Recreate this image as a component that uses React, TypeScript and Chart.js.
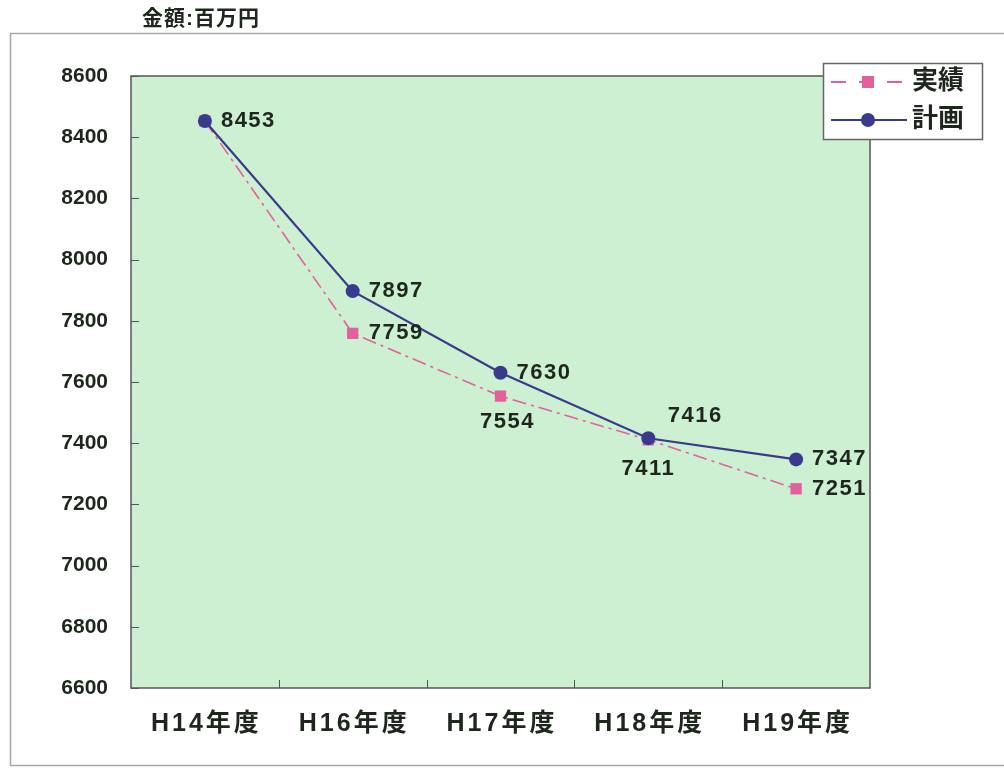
import React, { useEffect, useRef } from "react";
import { Chart, registerables } from "chart.js";

Chart.register(...registerables);

const categories = ["H14年度", "H16年度", "H17年度", "H18年度", "H19年度"];
const planValues = [8453, 7897, 7630, 7416, 7347];
const actualValues = [8453, 7759, 7554, 7411, 7251];
const planLabel = "計画";
const actualLabel = "実績";
const unitLabel = "金額:百万円";
const yMin = 6600;
const yMax = 8600;
const yStep = 200;
// label placement for the value texts (null = no label)
const planLabelPos = ["right", "right", "right", "aboveRight", "right"];
const actualLabelPos = [null, "right", "below", "belowLeft", "right"];

const GREEN = "#cdf0d2";
const NAVY = "#3a3a8c";
const PINK = "#e2609c";
const TEXT = "#1e261e";
const FONT = "'Liberation Sans', 'Noto Sans CJK JP', sans-serif";

export default function App() {
  const ref = useRef<HTMLCanvasElement>(null);
  useEffect(() => {
    const canvas = ref.current!;
    const decor = {
      id: "decor",
      beforeDraw(chart: any) {
        const { ctx, chartArea: a } = chart;
        ctx.save();
        ctx.fillStyle = "#ffffff";
        ctx.fillRect(0, 0, chart.width, chart.height);
        ctx.strokeStyle = "#a8a8a8";
        ctx.lineWidth = 1.5;
        ctx.strokeRect(10.5, 33.5, 1010, 732);
        ctx.fillStyle = GREEN;
        ctx.fillRect(a.left, a.top, a.right - a.left, a.bottom - a.top);
        ctx.fillStyle = TEXT;
        ctx.font = `bold 21px ${FONT}`;
        (ctx as any).letterSpacing = "1px";
        ctx.textBaseline = "middle";
        ctx.textAlign = "left";
        ctx.fillText(unitLabel, 142, 19);
        ctx.restore();
      },
      beforeDatasetsDraw(chart: any) {
        const { ctx, chartArea: a, scales } = chart;
        ctx.save();
        ctx.strokeStyle = "#555";
        ctx.lineWidth = 1.5;
        ctx.strokeRect(a.left, a.top, a.right - a.left, a.bottom - a.top);
        ctx.lineWidth = 1;
        const y = scales.y;
        y.ticks.forEach((t: any) => {
          const py = Math.round(y.getPixelForValue(t.value)) + 0.5;
          ctx.beginPath();
          ctx.moveTo(a.left, py);
          ctx.lineTo(a.left + 8, py);
          ctx.stroke();
        });
        const x = scales.x;
        for (let i = 1; i < categories.length; i++) {
          const px = Math.round((x.getPixelForValue(i - 1) + x.getPixelForValue(i)) / 2) + 0.5;
          ctx.beginPath();
          ctx.moveTo(px, a.bottom);
          ctx.lineTo(px, a.bottom - 8);
          ctx.stroke();
        }
        // category labels (with letter spacing)
        ctx.fillStyle = TEXT;
        ctx.font = `bold 25px ${FONT}`;
        (ctx as any).letterSpacing = "3px";
        ctx.textAlign = "center";
        ctx.textBaseline = "middle";
        categories.forEach((c, i) => {
          ctx.fillText(c, x.getPixelForValue(i) + 1.5, a.bottom + 36);
        });
        ctx.restore();
      },
      afterDatasetsDraw(chart: any) {
        const { ctx } = chart;
        ctx.save();
        ctx.fillStyle = TEXT;
        ctx.font = `bold 22px ${FONT}`;
        ctx.textBaseline = "middle";
        (ctx as any).letterSpacing = "1.5px";
        const drawLabels = (dsIndex: number, vals: number[], pos: (string | null)[]) => {
          const meta = chart.getDatasetMeta(dsIndex);
          meta.data.forEach((pt: any, i: number) => {
            const p = pos[i];
            if (!p) return;
            const s = String(vals[i]);
            if (p === "right") {
              ctx.textAlign = "left";
              ctx.fillText(s, pt.x + 16, pt.y);
            } else if (p === "below") {
              ctx.textAlign = "center";
              ctx.fillText(s, pt.x + 7, pt.y + 26);
            } else if (p === "belowLeft") {
              ctx.textAlign = "center";
              ctx.fillText(s, pt.x, pt.y + 29);
            } else if (p === "aboveRight") {
              ctx.textAlign = "center";
              ctx.fillText(s, pt.x + 47, pt.y - 22);
            }
          });
        };
        drawLabels(0, planValues, planLabelPos);
        drawLabels(1, actualValues, actualLabelPos);

        // legend
        const lx = 823, ly = 63, lw = 159, lh = 76;
        (ctx as any).letterSpacing = "0px";
        ctx.fillStyle = "#ffffff";
        ctx.fillRect(lx, ly, lw, lh);
        ctx.strokeStyle = "#666";
        ctx.lineWidth = 1.5;
        ctx.strokeRect(lx + 0.5, ly + 0.5, lw, lh);
        const rows = [
          { label: actualLabel, color: PINK, dash: [15, 13], y: ly + 19, square: true },
          { label: planLabel, color: NAVY, dash: [], y: ly + 57, square: false },
        ];
        rows.forEach((r) => {
          ctx.save();
          ctx.strokeStyle = r.color;
          ctx.lineWidth = r.square ? 1.8 : 2.2;
          ctx.setLineDash(r.dash);
          ctx.beginPath();
          ctx.moveTo(lx + 8, r.y);
          ctx.lineTo(lx + 84, r.y);
          ctx.stroke();
          ctx.restore();
          ctx.fillStyle = r.color;
          if (r.square) {
            ctx.fillRect(lx + 39, r.y - 6, 12, 12);
          } else {
            ctx.beginPath();
            ctx.arc(lx + 45, r.y, 7, 0, Math.PI * 2);
            ctx.fill();
          }
          ctx.fillStyle = TEXT;
          ctx.font = `bold 26px ${FONT}`;
          ctx.textAlign = "left";
          ctx.textBaseline = "middle";
          ctx.fillText(r.label, lx + 89, r.y);
        });
        ctx.restore();
      },
    };

    const chart = new Chart(canvas, {
      type: "line",
      data: {
        labels: categories,
        datasets: [
          {
            label: planLabel,
            data: planValues,
            borderColor: NAVY,
            backgroundColor: NAVY,
            borderWidth: 2.2,
            pointStyle: "circle",
            pointRadius: 7,
            pointBorderWidth: 0,
            tension: 0,
            order: 0,
          },
          {
            label: actualLabel,
            data: actualValues,
            borderColor: PINK,
            backgroundColor: PINK,
            borderWidth: 1.6,
            borderDash: [14, 5, 3, 5],
            pointStyle: "rect",
            pointRadius: 8,
            pointBorderWidth: 0,
            tension: 0,
            order: 1,
          },
        ],
      },
      options: {
        animation: false,
        responsive: false,
        maintainAspectRatio: false,
        layout: { padding: { top: 76, right: 134, bottom: 0, left: 0 } },
        plugins: { legend: { display: false }, tooltip: { enabled: false }, title: { display: false } },
        scales: {
          x: {
            type: "category",
            offset: true,
            grid: { display: false, drawTicks: false },
            border: { display: false },
            ticks: { display: false },
            afterFit: (s: any) => {
              s.height = 83;
            },
          },
          y: {
            min: yMin,
            max: yMax,
            grid: { display: false, drawTicks: false },
            border: { display: false },
            ticks: {
              stepSize: yStep,
              color: TEXT,
              padding: 23,
              font: { family: FONT, size: 21, weight: "bold" },
              callback: (v: any) => String(v),
            },
            afterFit: (s: any) => {
              s.width = 131;
            },
          },
        },
      },
      plugins: [decor],
    });
    return () => chart.destroy();
  }, []);
  return (
    <div style={{ position: "absolute", left: 0, top: 0, width: 1004, height: 771 }}>
      <canvas ref={ref} width={1004} height={771} style={{ display: "block" }} />
    </div>
  );
}
